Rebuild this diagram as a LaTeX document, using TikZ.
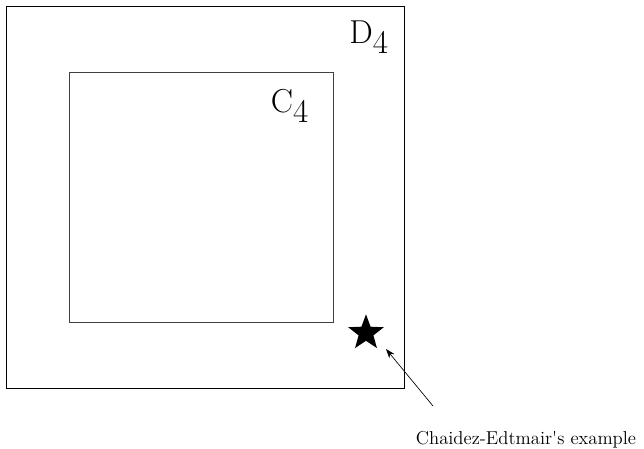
\documentclass[tikz,border=0pt]{standalone}
\usetikzlibrary{shapes.geometric,arrows.meta}
\usepackage{textcomp}
\begin{document}
\begin{tikzpicture}[x=0.75pt,y=-0.75pt,
  region/.style={draw, line width=0.4pt},
  biglabel/.style={font=\fontsize{36}{40}\selectfont, inner sep=0pt},
  note/.style={font=\fontsize{14}{16}\selectfont, inner sep=0pt}]
\useasboundingbox (0,0) rectangle (644,449);
\draw[region] (6,6) rectangle (404,388);
\draw[region, black!75] (69,72) rectangle (333,322);
\node[biglabel] (d4) at (369,37) {$\mathrm{D}_4$};
\node[biglabel] (c4) at (290,106) {$\mathrm{C}_4$};
\node[star, star points=5, star point ratio=2.4, fill=black, inner sep=0pt, minimum size=28pt] (st) at (366,333) {};
\node[note, anchor=base] (ex) at (526,445) {Chaidez-Edtmair\textquotesingle s example};
\coordinate (tip) at (386,349);
\draw[-{Stealth[length=7pt,width=5pt]}, line width=0.5pt] (433,406) -- (tip);
\end{tikzpicture}
\end{document}
